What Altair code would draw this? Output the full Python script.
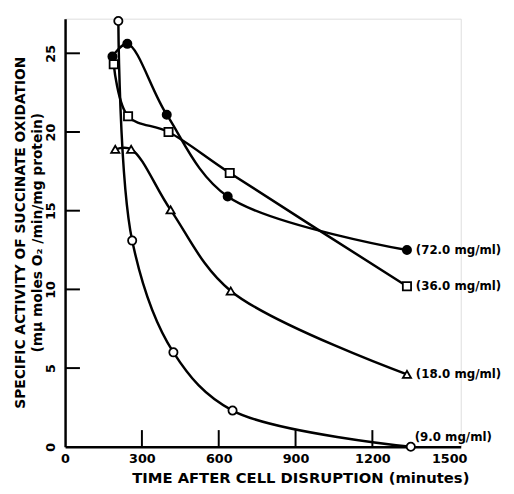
import altair as alt
import pandas as pd

series_names = ["72.0", "36.0", "18.0", "9.0"]

x72 = [185, 243, 397, 635, 1335]
y72 = [24.8, 25.6, 21.1, 15.9, 12.5]
x36 = [190, 246, 404, 643, 1335]
y36 = [24.3, 21.0, 20.0, 17.4, 10.2]
x18 = [196, 258, 412, 647, 1335]
y18 = [18.9, 18.9, 15.05, 9.9, 4.6]
x9 = [208, 262, 423, 654, 1350]
y9 = [27.05, 13.1, 6.0, 2.3, 0.0]

labels = ["(72.0 mg/ml)", "(36.0 mg/ml)", "(18.0 mg/ml)", "(9.0 mg/ml)"]

x_tick_values = [300, 600, 900, 1200]
y_tick_values = [5, 10, 15, 20, 25]
x_label_values = [0, 300, 600, 900, 1200, 1500]
y_label_values = [0, 5, 10, 15, 20, 25]

rows = []
for name, xs, ys in zip(series_names, [x72, x36, x18, x9], [y72, y36, y18, y9]):
    for xv, yv in zip(xs, ys):
        rows.append({"series": name, "t": xv, "v": yv})
df = pd.DataFrame(rows)

end_df = pd.DataFrame({
    "series": series_names,
    "t": [x72[-1], x36[-1], x18[-1], x9[-1]],
    "v": [y72[-1], y36[-1], y18[-1], y9[-1]],
    "label": labels,
})

FONT = "DejaVu Sans"

xscale = alt.Scale(domain=[0, 1545], nice=False, zero=False)
yscale = alt.Scale(domain=[0, 27.2], nice=False, zero=False)

xaxis = alt.Axis(
    values=x_label_values, format="d", tickSize=0, grid=False, domainColor="black",
    domainWidth=2.5, labelFont=FONT, labelFontWeight="bold", labelFontSize=13,
    labelColor="black", labelPadding=6, labelFlush=False,
    title="TIME AFTER CELL DISRUPTION  (minutes)", titleFont=FONT,
    titleFontWeight="bold", titleFontSize=15, titleColor="black",
    titleX=239, titleY=31, titleBaseline="middle", titleAnchor="middle",
)
yaxis = alt.Axis(
    values=y_label_values, format="d", tickSize=0, grid=False, domainColor="black",
    domainWidth=2.5, labelFont=FONT, labelFontWeight="bold", labelFontSize=13,
    labelColor="black", labelPadding=8, labelAngle=270, labelAlign="center",
    labelBaseline="bottom", labelFlush=False,
    title=["SPECIFIC ACTIVITY OF SUCCINATE OXIDATION", "(m\u03bc moles O\u2082 /min/mg protein)"],
    titleFont=FONT, titleFontWeight="bold", titleFontSize=14, titleColor="black",
    titleAngle=270, titleX=-52, titleY=217, titleBaseline="top", titleAlign="center",
    titleLineHeight=17,
)

base = alt.Chart(df)

lines = base.mark_line(interpolate="catmull-rom", color="black", strokeWidth=2.5).encode(
    x=alt.X("t:Q", scale=xscale, axis=xaxis),
    y=alt.Y("v:Q", scale=yscale, axis=yaxis),
    detail="series:N",
)

points = base.mark_point(size=70, strokeWidth=1.8, opacity=1, color="black").encode(
    x=alt.X("t:Q", scale=xscale),
    y=alt.Y("v:Q", scale=yscale),
    shape=alt.Shape("series:N", scale=alt.Scale(domain=series_names,
                    range=["circle", "square", "triangle-up", "circle"]), legend=None),
    fill=alt.Fill("series:N", scale=alt.Scale(domain=series_names,
                  range=["black", "white", "white", "white"]), legend=None),
)

text_main = alt.Chart(end_df[end_df["series"] != "9.0"]).mark_text(
    align="left", baseline="middle", dx=9, font=FONT, fontWeight="bold",
    fontSize=12, color="black",
).encode(x=alt.X("t:Q", scale=xscale), y=alt.Y("v:Q", scale=yscale), text="label:N")

text_9 = alt.Chart(end_df[end_df["series"] == "9.0"]).mark_text(
    align="left", baseline="middle", dx=4, dy=-10, font=FONT, fontWeight="bold",
    fontSize=12, color="black",
).encode(x=alt.X("t:Q", scale=xscale), y=alt.Y("v:Q", scale=yscale), text="label:N")

xt = alt.Chart(pd.DataFrame({"t": x_tick_values, "y0": 0.0, "y1": 1.06})).mark_rule(
    color="black", strokeWidth=2
).encode(x=alt.X("t:Q", scale=xscale), y=alt.Y("y0:Q", scale=yscale), y2="y1:Q")

yt = alt.Chart(pd.DataFrame({"v": y_tick_values, "x0": 0.0, "x1": 58.0})).mark_rule(
    color="black", strokeWidth=2
).encode(y=alt.Y("v:Q", scale=yscale), x=alt.X("x0:Q", scale=xscale), x2="x1:Q")

chart = alt.layer(xt, yt, lines, points, text_main, text_9).properties(
    width=402, height=435,
    autosize=alt.AutoSizeParams(type="none"),
    padding={"left": 58, "top": 7, "right": 46, "bottom": 36},
).configure_view(stroke=None).configure(background="white")

chart.save("out.html", embed_options={"renderer": "svg", "actions": False})
